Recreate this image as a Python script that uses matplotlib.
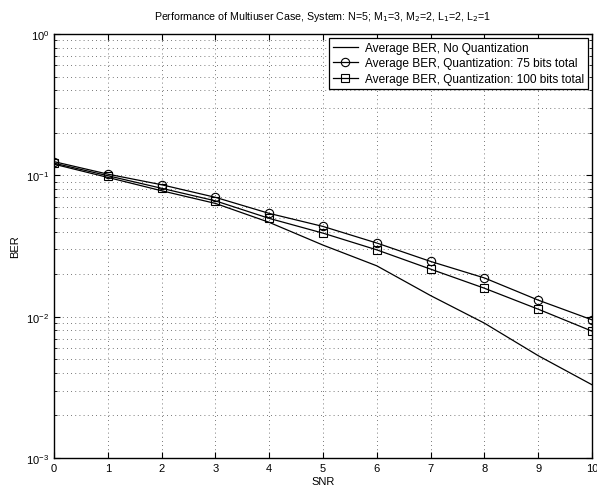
import matplotlib
matplotlib.use("Agg")
import matplotlib.pyplot as plt
from matplotlib.ticker import LogLocator, NullFormatter

plt.rcParams['font.family'] = ['Liberation Sans', 'DejaVu Sans']

snr = [0, 1, 2, 3, 4, 5, 6, 7, 8, 9, 10]
ber_noq = [0.120, 0.0967, 0.0778, 0.0633, 0.0465, 0.0321, 0.0229, 0.0141, 0.0090, 0.0053, 0.0033]
ber_75 = [0.125, 0.102, 0.0858, 0.0699, 0.0538, 0.0435, 0.0332, 0.0246, 0.0188, 0.0131, 0.0095]
ber_100 = [0.122, 0.0994, 0.0810, 0.0660, 0.0496, 0.0390, 0.0297, 0.0217, 0.0159, 0.0113, 0.0079]

labels = ["Average BER, No Quantization",
          "Average BER, Quantization: 75 bits total",
          "Average BER, Quantization: 100 bits total"]
title = "Performance of Multiuser Case, System: N=5; M$_1$=3, M$_2$=2, L$_1$=2, L$_2$=1"

fig = plt.figure(figsize=(5.97, 4.89), dpi=100)
ax = fig.add_axes([0.0905, 0.0613, 0.9011, 0.8671])

ax.semilogy(snr, ber_noq, '-', color='k', lw=0.9, label=labels[0])
ax.semilogy(snr, ber_75, '-o', color='k', lw=0.9, ms=6, mfc='none', mew=0.8, label=labels[1])
ax.semilogy(snr, ber_100, '-s', color='k', lw=0.9, ms=5.5, mfc='none', mew=0.8, label=labels[2])

ax.set_xlim(0, 10)
ax.set_ylim(1e-3, 1e0)
ax.set_xticks(range(0, 11))
ax.yaxis.set_major_locator(LogLocator(base=10, numticks=10))
ax.yaxis.set_minor_locator(LogLocator(base=10, subs=range(2, 10), numticks=20))
ax.yaxis.set_minor_formatter(NullFormatter())

ax.grid(True, which='major', axis='both', color='k', linestyle=(0, (1, 4)), lw=0.6, alpha=0.7)
ax.grid(True, which='minor', axis='y', color='k', linestyle=(0, (1, 4)), lw=0.6, alpha=0.7)

ax.tick_params(axis='both', which='both', direction='in', top=True, right=True, labelsize=8)
ax.tick_params(which='major', length=4)
ax.tick_params(which='minor', length=2)
for s in ax.spines.values():
    s.set_linewidth(1.0)

ax.set_xlabel("SNR", fontsize=8, labelpad=2)
ax.set_ylabel("BER", fontsize=8, labelpad=4)
ax.set_title(title, fontsize=7.7, pad=11)

leg = ax.legend(loc='upper right', fontsize=8.6, frameon=True, fancybox=False,
                edgecolor='k', framealpha=1, borderpad=0.3, labelspacing=0.3,
                handlelength=2.1, handletextpad=0.6, borderaxespad=0.35)
leg.get_frame().set_linewidth(0.9)

fig.savefig("out.png", dpi=100)
